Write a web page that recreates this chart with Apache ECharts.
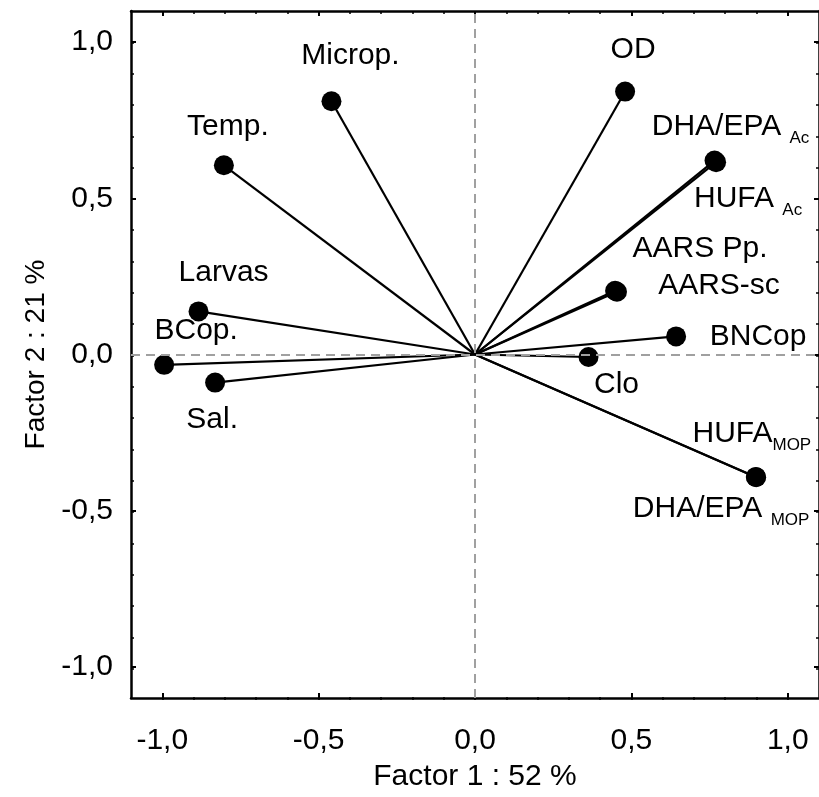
<!DOCTYPE html>
<html><head><meta charset="utf-8">
<script src="https://cdn.jsdelivr.net/npm/echarts@6/dist/echarts.min.js"></script>
<style>html,body{margin:0;padding:0;background:#fff;overflow:hidden}#c{width:819px;height:797px}</style>
</head><body><div id="c"></div>
<script>
// ---- data ----
const variables = ['Microp.','Temp.','Larvas','BCop.','Sal.','OD','DHA/EPA_Ac','HUFA_Ac','AARS Pp.','AARS-sc','BNCop','Clo','HUFA_MOP','DHA/EPA_MOP'];
const factor1 = [-0.459,-0.803,-0.884,-0.994,-0.831,0.480,0.766,0.771,0.448,0.454,0.643,0.363,0.898,0.899];
const factor2 = [0.811,0.606,0.138,-0.033,-0.090,0.842,0.621,0.616,0.204,0.201,0.058,-0.008,-0.392,-0.393];
const majorTicks = [-1.0,-0.5,0.0,0.5,1.0];
const minorTicks = [-1.0,-0.9,-0.8,-0.7,-0.6,-0.5,-0.4,-0.3,-0.2,-0.1,0.0,0.1,0.2,0.3,0.4,0.5,0.6,0.7,0.8,0.9,1.0];
const xTitle = 'Factor 1 : 52 %';
const yTitle = 'Factor 2 : 21 %';

// ---- styles ----
const labelText = {
  'DHA/EPA_Ac': '{m|DHA/EPA }{s|Ac}',
  'HUFA_Ac': '{m|HUFA }{s|Ac}',
  'HUFA_MOP': '{m|HUFA}{s|MOP}',
  'DHA/EPA_MOP': '{m|DHA/EPA }{s|MOP}'
};
const labelOffset = {
  'Microp.': [19,-46], 'Temp.': [4,-39], 'Larvas': [25,-39], 'BCop.': [32,-34], 'Sal.': [-3,37],
  'OD': [8,-42], 'DHA/EPA_Ac': [16,-34], 'HUFA_Ac': [32,37], 'AARS Pp.': [85,-42], 'AARS-sc': [102,-6],
  'BNCop': [82,0], 'Clo': [28,28], 'HUFA_MOP': [-4,-43], 'DHA/EPA_MOP': [-35,32]
};
const FONT = '"Liberation Sans", Arial, sans-serif';
const fmt = v => {
  const r = Math.round(v * 10) / 10;
  return r.toFixed(1).replace('.', ',').replace('-0,0','0,0');
};
const RANGE = [-1.1, 1.1];
const GRID = {left: 131, top: 11, width: 691.5, height: 689};

function axis(pos, gridIndex, opts) {
  return Object.assign({
    type: 'value', gridIndex, position: pos, min: RANGE[0], max: RANGE[1],
    splitLine: {show: false},
    axisLine: {show: true, onZero: false, lineStyle: {color: '#000', width: 2.5}},
    axisTick: {show: true, inside: true, length: 5, customValues: majorTicks, lineStyle: {color: '#000', width: 2}},
    axisLabel: {show: false}
  }, opts);
}
const minorOpts = {
  axisLine: {show: false, onZero: false},
  axisTick: {show: true, inside: true, length: 3, customValues: minorTicks, lineStyle: {color: '#000', width: 1.5}}
};
const tickLabel = {show: true, customValues: majorTicks, formatter: fmt, color: '#000', fontFamily: FONT, fontSize: 30};

const option = {
  animation: false,
  backgroundColor: '#fff',
  grid: [Object.assign({}, GRID), Object.assign({}, GRID)],
  xAxis: [
    axis('bottom',0,{axisLabel: Object.assign({margin: 28}, tickLabel),
      name: xTitle, nameLocation: 'middle', nameGap: 64,
      nameTextStyle: {color: '#000', fontFamily: FONT, fontSize: 30}}),
    axis('top',0,{}),
    axis('bottom',1,minorOpts),
    axis('top',1,minorOpts)
  ],
  yAxis: [
    axis('left',0,{axisLabel: Object.assign({margin: 18}, tickLabel),
      name: yTitle, nameLocation: 'middle', nameGap: 70, nameRotate: 90,
      nameTextStyle: {color: '#000', fontFamily: FONT, fontSize: 28}}),
    axis('right',0,{}),
    axis('left',1,minorOpts),
    axis('right',1,minorOpts)
  ],
  series: [
    {
      type: 'line', xAxisIndex: 0, yAxisIndex: 0, data: [], silent: true, z: 1,
      markLine: {
        silent: true, symbol: 'none', label: {show: false}, animation: false,
        lineStyle: {color: '#a0a0a0', width: 2, type: [9, 6]},
        data: [{xAxis: 0}, {yAxis: 0}]
      }
    },
    {
      type: 'lines', coordinateSystem: 'cartesian2d', xAxisIndex: 0, yAxisIndex: 0, z: 2,
      lineStyle: {color: '#000', width: 2.2, opacity: 1},
      data: variables.map((n, i) => ({coords: [[0, 0], [factor1[i], factor2[i]]]}))
    },
    {
      type: 'scatter', xAxisIndex: 0, yAxisIndex: 0, z: 3,
      symbol: 'circle', symbolSize: 20,
      itemStyle: {color: '#000', opacity: 1},
      data: variables.map((n, i) => ({
        name: n, value: [factor1[i], factor2[i]],
        label: {
          show: true, position: 'inside', offset: labelOffset[n], color: '#000', opacity: 1,
          formatter: labelText[n] || ('{m|' + n + '}'),
          rich: {
            m: {fontFamily: FONT, fontSize: 30, lineHeight: 40, color: '#000'},
            s: {fontFamily: FONT, fontSize: 17, lineHeight: 17, color: '#000', verticalAlign: 'bottom'}
          }
        }
      }))
    }
  ]
};
const chart = echarts.init(document.getElementById('c'), null, {renderer: 'canvas'});
chart.setOption(option);
</script>
</body></html>
